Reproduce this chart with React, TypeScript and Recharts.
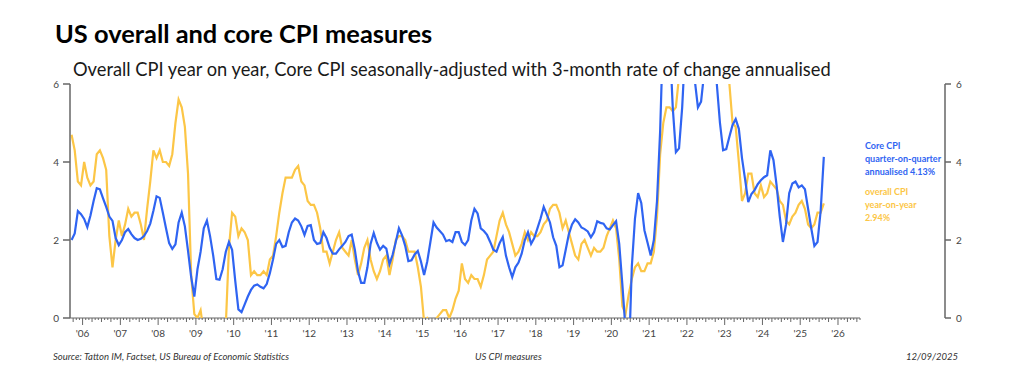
import React from "react";
import { LineChart, Line, XAxis, YAxis, ReferenceLine } from "recharts";

// monthly, first point Sep 2005, last point Aug 2025
const firstMonthIndex = -4; // months relative to Jan 2006

// Overall CPI, year on year %
const cpiYoY = [
  4.7, 4.3, 3.5, 3.4,
  4.0, 3.6, 3.4, 3.5, 4.2, 4.3, 4.1, 3.8, 2.1, 1.3, 2.0, 2.5,
  2.1, 2.4, 2.8, 2.6, 2.7, 2.7, 2.4, 2.0, 2.8, 3.5, 4.3, 4.1,
  4.3, 4.0, 4.0, 3.9, 4.2, 5.0, 5.6, 5.4, 4.9, 3.7, 1.1, 0.1,
  0.0, 0.2, -0.4, -0.7, -1.3, -1.4, -2.1, -1.5, -1.3, -0.2, 1.8, 2.7,
  2.6, 2.1, 2.3, 2.2, 2.0, 1.1, 1.2, 1.1, 1.1, 1.2, 1.1, 1.5,
  1.6, 2.1, 2.7, 3.2, 3.6, 3.6, 3.6, 3.8, 3.9, 3.5, 3.4, 3.0,
  2.9, 2.9, 2.7, 2.3, 1.7, 1.7, 1.4, 1.7, 2.0, 2.2, 1.8, 1.7,
  1.6, 2.0, 1.5, 1.1, 1.4, 1.8, 2.0, 1.5, 1.2, 1.0, 1.2, 1.5,
  1.6, 1.1, 1.5, 2.0, 2.1, 2.1, 2.0, 1.7, 1.7, 1.7, 1.3, 0.8,
  -0.1, 0.0, -0.1, -0.2, 0.0, 0.1, 0.2, 0.2, 0.0, 0.2, 0.5, 0.7,
  1.4, 1.0, 0.9, 1.1, 1.0, 1.0, 0.8, 1.1, 1.5, 1.6, 1.7, 2.1,
  2.5, 2.7, 2.4, 2.2, 1.9, 1.6, 1.7, 1.9, 2.2, 2.0, 2.2, 2.1,
  2.1, 2.2, 2.4, 2.5, 2.8, 2.9, 2.9, 2.7, 2.3, 2.5, 2.2, 1.9,
  1.6, 1.5, 1.9, 2.0, 1.8, 1.6, 1.8, 1.7, 1.7, 1.8, 2.1, 2.3,
  2.5, 2.3, 1.5, 0.3, 0.1, 0.6, 1.0, 1.3, 1.4, 1.2, 1.2, 1.4,
  1.4, 1.7, 2.6, 4.2, 5.0, 5.4, 5.4, 5.3, 5.4, 6.2, 6.8, 7.0,
  7.5, 7.9, 8.5, 8.3, 8.6, 9.1, 8.5, 8.3, 8.2, 7.7, 7.1, 6.5,
  6.4, 6.0, 5.0, 4.9, 4.0, 3.0, 3.2, 3.7, 3.7, 3.2, 3.1, 3.4,
  3.1, 3.2, 3.5, 3.4, 3.3, 3.0, 2.9, 2.5, 2.4, 2.6, 2.7, 2.9,
  3.0, 2.8, 2.4, 2.3, 2.4, 2.7, 2.7, 2.94,
];

// Core CPI, 3-month change annualised %
const coreQoQ = [
  2.0, 2.17, 2.74, 2.66,
  2.54, 2.33, 2.63, 3.0, 3.33, 3.3, 3.07, 2.85, 2.6, 2.49, 2.05, 1.87,
  2.0, 2.2, 2.28, 2.15, 2.05, 2.0, 2.03, 2.1, 2.23, 2.42, 2.75, 3.12,
  3.08, 2.7, 2.3, 1.92, 1.77, 1.89, 2.45, 2.7, 2.35, 1.72, 1.05, 0.55,
  1.25, 1.7, 2.3, 2.5, 2.1, 1.6, 1.0, 0.98, 1.25, 1.7, 1.95, 1.75,
  0.95, 0.22, 0.15, 0.35, 0.55, 0.72, 0.83, 0.86, 0.8, 0.76, 0.87, 1.15,
  1.5, 1.9, 2.0, 1.82, 1.85, 2.2, 2.45, 2.55, 2.5, 2.35, 2.13, 2.36,
  2.38, 2.0, 1.9, 1.92, 2.2, 2.05, 1.8, 1.65, 1.65, 1.76, 1.85, 1.95,
  2.1, 2.14, 1.75, 1.2, 0.9, 0.9, 1.3, 1.9, 2.18, 1.93, 1.75, 1.85,
  1.78, 1.38, 1.62, 1.95, 2.3, 2.12, 1.85, 1.46, 1.48, 1.63, 1.72, 1.45,
  1.1, 1.45, 1.95, 2.45, 2.32, 2.23, 2.14, 1.97, 2.0, 1.95, 2.2, 2.2,
  1.95, 1.87, 2.0, 2.5, 2.8, 2.68, 2.3, 2.23, 2.13, 1.95, 1.75, 1.7,
  1.92, 2.08, 1.6, 1.3, 1.05, 1.3, 1.42, 1.65, 2.0, 2.2, 1.9, 2.05,
  2.3, 2.55, 2.85, 2.65, 2.45, 2.07, 1.85, 1.3, 1.35, 1.75, 2.15, 2.4,
  2.53, 2.45, 2.32, 2.28, 2.22, 2.07, 2.2, 2.48, 2.44, 2.42, 2.3, 2.27,
  2.38, 2.48, 1.9, 0.85, -0.3, -1.2, 1.32, 2.55, 3.2, 2.95, 2.25, 1.93,
  1.6, 2.0, 3.0, 4.8, 7.5, 8.5, 7.2, 5.4, 4.25, 4.35, 5.4, 7.0,
  8.0, 7.5, 6.1, 5.4, 5.55, 6.3, 7.5, 7.5, 6.8, 6.0, 5.0, 4.3,
  4.33, 4.65, 4.95, 5.1, 4.85, 4.1, 3.55, 2.97, 3.18, 3.28, 3.43, 3.53,
  3.61, 3.66, 4.3, 4.05, 3.4, 2.6, 1.95, 2.4, 3.2, 3.45, 3.5, 3.35,
  3.4, 3.3, 2.8, 2.3, 1.85, 1.95, 2.75, 4.13,
];

const yearLabels = [
  "'06", "'07", "'08", "'09", "'10", "'11", "'12", "'13", "'14", "'15", "'16",
  "'17", "'18", "'19", "'20", "'21", "'22", "'23", "'24", "'25", "'26",
];
const yTicks = [0, 2, 4, 6];

const BLUE = "#2f64f2";
const YELLOW = "#fcc646";
const AXIS = "#666";
const FONT = "Lato, 'Open Sans', sans-serif";

// points sit mid-month
const data = cpiYoY.map((v, i) => ({
  t: firstMonthIndex + i + 0.5,
  cpi: v,
  core: coreQoQ[i],
}));

// month ticks from Oct 2005 to Aug 2026
const monthTicks = Array.from({ length: 251 }, (_, i) => i - 3);

const MonthTick = (props: any) => {
  const { x, y, payload } = props;
  const m = payload.value;
  const len = m % 12 === 0 ? 7 : m % 3 === 0 ? 4 : 2;
  const label = m % 12 === 0 ? yearLabels[m / 12] : null;
  return (
    <g>
      <line x1={x} x2={x} y1={y} y2={y + len} stroke={AXIS} strokeWidth={1} />
      {label && (
        <text x={x} y={y + 19} textAnchor="middle" fontSize={10} fill="#444" fontFamily={FONT}>
          {label}
        </text>
      )}
    </g>
  );
};

export default function App() {
  return (
    <div style={{ position: "absolute", left: 0, top: 0, width: 1024, height: 387, background: "#fff" }}>
      <LineChart
        width={1024}
        height={387}
        data={data}
        margin={{ top: 84, right: 29, bottom: 19, left: 20 }}
      >
        <XAxis
          dataKey="t"
          type="number"
          domain={[-4, 274]}
          allowDataOverflow
          ticks={monthTicks}
          interval={0}
          axisLine={false}
          tickLine={false}
          tickSize={0}
          tickMargin={0}
          height={50}
          tick={<MonthTick />}
        />
        <YAxis
          yAxisId="left"
          domain={[0, 6]}
          ticks={yTicks}
          allowDataOverflow
          width={50}
          stroke={AXIS}
          strokeWidth={1.5}
          tickSize={7}
          tickMargin={4}
          tick={{ fontSize: 10, fill: "#444", fontFamily: FONT }}
        />
        <YAxis
          yAxisId="right"
          orientation="right"
          domain={[0, 6]}
          ticks={yTicks}
          allowDataOverflow
          width={50}
          stroke={AXIS}
          strokeWidth={1.5}
          tickSize={6}
          tickMargin={5}
          tick={{ fontSize: 10, fill: "#444", fontFamily: FONT }}
        />
        <ReferenceLine
          yAxisId="left"
          segment={[{ x: -4, y: 0 }, { x: 247, y: 0 }]}
          stroke={AXIS}
          strokeWidth={1}
        />
        <Line
          yAxisId="left"
          type="linear"
          dataKey="cpi"
          stroke={YELLOW}
          strokeWidth={2.2}
          dot={false}
          isAnimationActive={false}
        />
        <Line
          yAxisId="left"
          type="linear"
          dataKey="core"
          stroke={BLUE}
          strokeWidth={2.2}
          dot={false}
          isAnimationActive={false}
        />
      </LineChart>
      <svg
        width={1024}
        height={387}
        style={{ position: "absolute", left: 0, top: 0, pointerEvents: "none" }}
        fontFamily={FONT}
      >
        <text x={55} y={43} fontSize={25.4} fontWeight={700} fill="#000">
          US overall and core CPI measures
        </text>
        <text x={73} y={76} fontSize={18.3} fill="#1a1a1a">
          Overall CPI year on year, Core CPI seasonally-adjusted with 3-month rate of change annualised
        </text>
        <g fontSize={9} fontWeight={700} fill={BLUE}>
          <text x={865} y={149}>Core CPI</text>
          <text x={865} y={162}>quarter-on-quarter</text>
          <text x={865} y={175}>annualised  4.13%</text>
        </g>
        <g fontSize={9} fontWeight={700} fill={YELLOW}>
          <text x={865} y={195}>overall CPI</text>
          <text x={865} y={208}>year-on-year</text>
          <text x={865} y={221}>2.94%</text>
        </g>
        <g fontSize={9.5} fontStyle="italic" fill="#333">
          <text x={53} y={360}>Source: Tatton IM, Factset, US Bureau of Economic Statistics</text>
          <text x={475} y={360}>US CPI measures</text>
          <text x={958} y={360} textAnchor="end">12/09/2025</text>
        </g>
      </svg>
    </div>
  );
}
